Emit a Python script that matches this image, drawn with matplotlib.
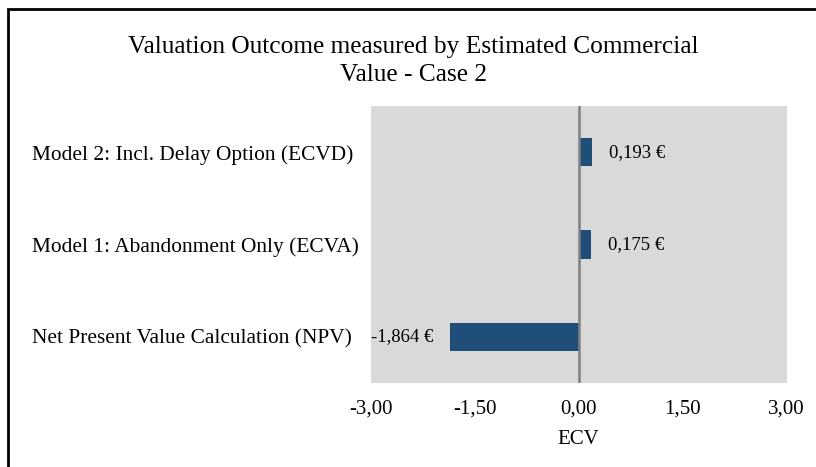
import matplotlib.pyplot as plt
from matplotlib.patches import Rectangle
from matplotlib.ticker import FuncFormatter

categories = ['Net Present Value Calculation (NPV)',
              'Model 1: Abandonment Only (ECVA)',
              'Model 2: Incl. Delay Option (ECVD)']
ecv_values = [-1.864, 0.175, 0.193]
x_ticks = [-3.0, -1.5, 0.0, 1.5, 3.0]

plt.rcParams['font.family'] = ['Liberation Serif', 'DejaVu Serif']

fig = plt.figure(figsize=(8.16, 4.67), dpi=100)
ax = fig.add_axes([371 / 816, 84 / 467, 415.5 / 816, 277 / 467])
ax.set_facecolor('#D9D9D9')

y = range(len(categories))
bars = ax.barh(y, ecv_values, height=0.31, color='#1F4E79', zorder=2)
ax.axvline(0, color='#808080', lw=1.8, zorder=3)

ax.set_xlim(-3, 3)
ax.set_ylim(-0.5, 2.5)
ax.set_xticks(x_ticks)
ax.xaxis.set_major_formatter(FuncFormatter(lambda v, p: f'{v:.2f}'.replace('.', ',')))
ax.set_yticks(list(y))
ax.set_yticklabels(categories, ha='left')
ax.tick_params(axis='x', length=0, pad=12, labelsize=15)
# category labels are left aligned at about x=32 px
ax.tick_params(axis='y', length=0, pad=(371 - 32) * 72 / 100, labelsize=15.4)
for s in ax.spines.values():
    s.set_visible(False)
ax.set_xlabel('ECV', fontsize=15, labelpad=8)

# value labels next to bars
for bar, val in zip(bars, ecv_values):
    txt = f'{val:.3f} €'.replace('.', ',')
    yc = bar.get_y() + bar.get_height() / 2
    if val >= 0:
        ax.annotate(txt, xy=(val, yc), xytext=(12, 0), textcoords='offset points',
                    ha='left', va='center', fontsize=13.5)
    else:
        ax.annotate(txt, xy=(val, yc), xytext=(-12, 0), textcoords='offset points',
                    ha='right', va='center', fontsize=13.5)

fig.text(413 / 816, 1 - 61 / 467, 'Valuation Outcome measured by Estimated Commercial\nValue - Case 2',
         ha='center', va='center', fontsize=18.3, linespacing=1.4)

# chart border
fig.patches.append(Rectangle((7.5 / 816, -0.05), 1.1, 1 - 8.5 / 467 + 0.05,
                             transform=fig.transFigure, fill=False,
                             edgecolor='black', lw=2))

fig.savefig('out.png', dpi=100)
